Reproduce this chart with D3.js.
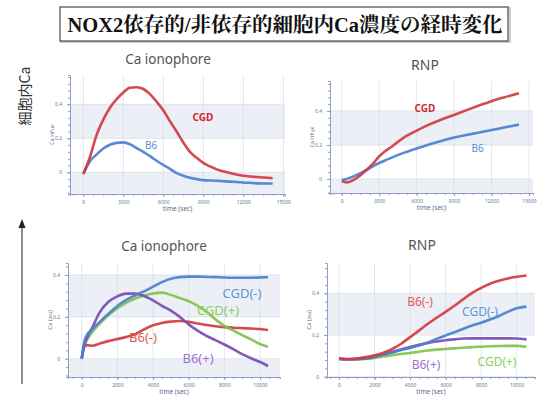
<!DOCTYPE html>
<html><head><meta charset="utf-8">
<script src="https://cdn.jsdelivr.net/npm/d3@7"></script>
<style>body{margin:0;background:#fff}</style>
</head><body><svg id="c" width="540" height="400"></svg>
<script>
const mainTitle = "NOX2依存的/非依存的細胞内Ca濃度の経時変化";
const sideLabel = "細胞内Ca";

// Panel A: Ca ionophore (top-left)
const aTitle = "Ca ionophore";
const aTime = [0,500,1000,1500,2000,2500,3000,3500,4000,4500,5000,5500,6000,6500,7000,7500,8000,8500,9000,9500,10000,11000,12000,13000,14200];
const aCGD = [-0.01,0.09,0.22,0.31,0.38,0.43,0.47,0.497,0.50,0.49,0.46,0.415,0.365,0.30,0.24,0.175,0.12,0.085,0.055,0.035,0.017,-0.004,-0.02,-0.028,-0.035];
const aB6 = [-0.01,0.065,0.105,0.14,0.162,0.173,0.176,0.165,0.142,0.12,0.095,0.068,0.043,0.02,-0.005,-0.02,-0.032,-0.04,-0.046,-0.048,-0.05,-0.055,-0.06,-0.065,-0.066];

// Panel B: RNP (top-right)
const bTitle = "RNP";
const bTime = [0,400,1000,1500,2000,2500,3000,3500,4000,5000,6000,7000,8000,9000,10000,11000,12000,13000,14200];
const bCGD = [-0.012,-0.02,-0.004,0.022,0.055,0.09,0.133,0.165,0.19,0.245,0.285,0.32,0.35,0.377,0.405,0.432,0.458,0.48,0.504];
const bB6 = [-0.006,0.0,0.017,0.034,0.053,0.075,0.094,0.11,0.126,0.155,0.18,0.203,0.224,0.244,0.259,0.274,0.288,0.303,0.32];

// Panel C: Ca ionophore (bottom-left)
const cTitle = "Ca ionophore";
const cTime = [0,150,300,600,1000,1500,2000,2500,3000,3500,4000,4500,5000,5500,6000,6500,7000,7500,8000,8500,9000,9500,10000,10450];
const cCGDminus = [0,0.083,0.114,0.142,0.175,0.215,0.252,0.281,0.303,0.322,0.344,0.366,0.382,0.39,0.392,0.392,0.391,0.39,0.388,0.387,0.387,0.387,0.388,0.389];
const cCGDplus = [0,0.065,0.09,0.128,0.167,0.208,0.241,0.268,0.288,0.302,0.312,0.316,0.305,0.29,0.275,0.253,0.224,0.188,0.157,0.135,0.113,0.092,0.07,0.057];
const cB6plus = [0,0.065,0.1,0.15,0.22,0.272,0.298,0.311,0.311,0.3,0.279,0.253,0.23,0.2,0.164,0.134,0.109,0.089,0.068,0.046,0.022,0.002,-0.016,-0.035];
const cB6minus = [0,0.058,0.065,0.062,0.072,0.084,0.094,0.104,0.117,0.14,0.16,0.171,0.177,0.18,0.176,0.168,0.161,0.155,0.151,0.148,0.146,0.144,0.142,0.137];

// Panel D: RNP (bottom-right)
const dTitle = "RNP";
const dTime = [0,500,1000,1500,2000,2500,3000,3500,4000,4500,5000,5500,6000,6500,7000,7500,8000,8500,9000,9500,10000,10550];
const dB6minus = [0.088,0.085,0.087,0.094,0.103,0.115,0.133,0.158,0.19,0.221,0.254,0.283,0.311,0.34,0.372,0.402,0.426,0.446,0.46,0.471,0.479,0.485];
const dCGDminus = [0.085,0.083,0.086,0.09,0.096,0.106,0.116,0.128,0.138,0.15,0.164,0.182,0.198,0.213,0.23,0.246,0.259,0.274,0.291,0.311,0.328,0.336];
const dB6plus = [0.085,0.084,0.084,0.087,0.095,0.106,0.119,0.131,0.143,0.153,0.162,0.169,0.175,0.179,0.183,0.184,0.184,0.184,0.184,0.184,0.183,0.179];
const dCGDplus = [0.085,0.083,0.083,0.085,0.09,0.097,0.103,0.109,0.114,0.12,0.126,0.13,0.133,0.136,0.139,0.142,0.144,0.146,0.147,0.148,0.148,0.144];

const xTicksLong = [0,3000,6000,9000,12000,15000];
const xTicksShort = [0,2000,4000,6000,8000,10000];
const yTicks = [0,0.2,0.4];
const bandRanges = [[-1,0],[0.2,0.4],[0.6,0.8]];
const xLabel = "time (sec)";

const svg = d3.select("#c");
const FONT = "'Noto Sans','Open Sans',sans-serif";

// Title box
svg.append("rect").attr("x",61).attr("y",8).attr("width",449).attr("height",34)
  .attr("fill","none").attr("stroke","#bbb").attr("stroke-width",1.5);
svg.append("rect").attr("x",60).attr("y",7).attr("width",448).attr("height",34)
  .attr("fill","#fff").attr("stroke","#555").attr("stroke-width",1.3);
svg.append("text").attr("x",285).attr("y",32).attr("text-anchor","middle")
  .attr("font-family","'Liberation Serif','Noto Serif CJK JP','Noto Sans CJK JP',serif")
  .attr("font-weight","bold").attr("font-size",20.5).attr("fill","#111").text(mainTitle);

// Side label and arrow
svg.append("text").attr("transform","translate(30,96) rotate(-90)")
  .attr("text-anchor","middle").attr("font-family","'Noto Sans CJK JP',sans-serif")
  .attr("font-size",14).attr("fill","#333").text(sideLabel);
svg.append("line").attr("x1",22).attr("x2",22).attr("y1",384).attr("y2",226)
  .attr("stroke","#444").attr("stroke-width",1.2);
svg.append("path").attr("d","M22,219 L18.5,228 L25.5,228 Z").attr("fill","#222");

function panel(p) {
  const g = svg.append("g");
  const F = p.frame;
  const xs0 = d3.scaleLinear().domain([0, p.xTicks[p.xTicks.length-1]]).range(p.xAnchor);
  const ys0 = d3.scaleLinear().domain([0, 0.4]).range(p.yAnchor);
  const x = d3.scaleLinear().domain([xs0.invert(F.l), xs0.invert(F.r)]).range([F.l, F.r]);
  const y = d3.scaleLinear().domain([ys0.invert(F.b), ys0.invert(F.t)]).range([F.b, F.t]);
  const [y0, y1] = y.domain();

  // bands
  bandRanges.forEach(([lo, hi]) => {
    const a = Math.max(lo, y0), b = Math.min(hi, y1);
    if (b > a) g.append("rect").attr("x",F.l).attr("width",F.r-F.l)
      .attr("y",y(b)).attr("height",y(a)-y(b)).attr("fill","#eceff5");
  });
  // grid
  g.selectAll(".vg").data(p.xTicks.filter(t => x(t) > F.l+1 && x(t) < F.r-1)).join("line")
    .attr("x1",d=>x(d)).attr("x2",d=>x(d)).attr("y1",F.t).attr("y2",F.b)
    .attr("stroke","#d9dfea").attr("stroke-width",0.8);
  g.selectAll(".hg").data(yTicks).join("line")
    .attr("x1",F.l).attr("x2",F.r).attr("y1",d=>y(d)).attr("y2",d=>y(d))
    .attr("stroke","#d9dfea").attr("stroke-width",0.8);

  // axes
  const axCol = "#8e9fc4";
  const styleAxis = (sel) => {
    sel.select(".domain").attr("stroke",axCol).attr("stroke-width",1);
    sel.selectAll(".tick line").attr("stroke",axCol);
    sel.selectAll("text").attr("fill","#6a7896").attr("font-size",5).attr("font-family",FONT);
  };
  const step = p.xTicks[1] / 4;
  const minorX = d3.range(Math.ceil(x.domain()[0]/step)*step, x.domain()[1], step);
  const minorY = d3.range(Math.ceil(y0/0.04)*0.04, y1, 0.04);
  g.append("g").attr("transform",`translate(0,${F.b})`)
    .call(d3.axisBottom(x).tickValues(minorX).tickSize(2).tickFormat(""))
    .call(styleAxis);
  g.append("g").attr("transform",`translate(${F.l},0)`)
    .call(d3.axisLeft(y).tickValues(minorY).tickSize(2).tickFormat(""))
    .call(styleAxis);
  g.append("g").attr("transform",`translate(0,${F.b})`)
    .call(d3.axisBottom(x).tickValues(p.xTicks).tickSize(3).tickPadding(3).tickFormat(d3.format("d")))
    .call(styleAxis).call(s => s.select(".domain").remove());
  g.append("g").attr("transform",`translate(${F.l},0)`)
    .call(d3.axisLeft(y).tickValues(yTicks).tickSize(3).tickPadding(5).tickFormat(d => d === 0 ? "0" : d3.format(".1f")(d)))
    .call(styleAxis).call(s => s.select(".domain").remove());

  // axis titles
  g.append("text").attr("x",(F.l+F.r)/2).attr("y",F.b+17).attr("text-anchor","middle")
    .attr("font-family",FONT).attr("font-size",6.5).attr("fill","#5d6b88").text(xLabel);
  g.append("text").attr("transform",`translate(${F.l-16},${(F.t+F.b)/2}) rotate(-90)`)
    .attr("text-anchor","middle").attr("font-family",FONT).attr("font-size",p.yLabelSize)
    .attr("fill","#5d6b88").text(p.yLabel);

  // panel title
  g.append("text").attr("x",p.titlePos[0]).attr("y",p.titlePos[1]).attr("text-anchor","middle")
    .attr("font-family",FONT).attr("font-size",p.titleSize).attr("fill","#555").text(p.title);

  // series
  const line = d3.line().x(d => x(d[0])).y(d => y(d[1])).curve(d3.curveMonotoneX);
  p.series.forEach(s => {
    g.append("path").datum(p.time.map((t,i) => [t, s.values[i]]))
      .attr("fill","none").attr("stroke",s.color).attr("stroke-width",2.6)
      .attr("stroke-linejoin","round").attr("stroke-opacity",0.92).attr("d",line);
  });
  p.series.forEach(s => {
    g.append("text").attr("x",s.label[0]).attr("y",s.label[1]).attr("text-anchor","middle")
      .attr("dominant-baseline","central").attr("font-family",FONT)
      .attr("font-size",p.labelSize).attr("font-weight",s.bold ? "bold" : "normal")
      .attr("fill",s.labelColor).text(s.name);
  });
}

const RED = "#d23a3f", BLUE = "#4a80cf", GREEN = "#7fc24a", PURPLE = "#7a4bb6";

panel({
  title: aTitle, titlePos:[168,64], titleSize:13.5,
  frame:{l:70,r:285,t:75,b:194}, xAnchor:[83.3,283.3], yAnchor:[172.3,104.3],
  xTicks:xTicksLong, yLabel:"Ca influx", yLabelSize:5, labelSize:10,
  time:aTime,
  series:[
    {name:"B6", values:aB6, color:BLUE, labelColor:"#5b8bd6", label:[151,145]},
    {name:"CGD", values:aCGD, color:RED, labelColor:"#d02a30", label:[203,117], bold:true}
  ]
});
panel({
  title: bTitle, titlePos:[425,70], titleSize:14,
  frame:{l:330,r:533,t:81,b:193}, xAnchor:[341.7,529], yAnchor:[179,111],
  xTicks:xTicksLong, yLabel:"Ca influx", yLabelSize:5, labelSize:10,
  time:bTime,
  series:[
    {name:"B6", values:bB6, color:BLUE, labelColor:"#5b8bd6", label:[477.7,147.7]},
    {name:"CGD", values:bCGD, color:RED, labelColor:"#d02a30", label:[425,107.7], bold:true}
  ]
});
panel({
  title: cTitle, titlePos:[164,251], titleSize:13.5,
  frame:{l:68,r:280,t:263,b:377}, xAnchor:[81.7,260], yAnchor:[358.7,275],
  xTicks:xTicksShort, yLabel:"Ca (au)", yLabelSize:6, labelSize:13,
  time:cTime,
  series:[
    {name:"B6(-)", values:cB6minus, color:RED, labelColor:"#e05a5c", label:[143,337]},
    {name:"CGD(+)", values:cCGDplus, color:GREEN, labelColor:"#8fcd5c", label:[218,310]},
    {name:"B6(+)", values:cB6plus, color:PURPLE, labelColor:"#a271d0", label:[198,358]},
    {name:"CGD(-)", values:cCGDminus, color:BLUE, labelColor:"#5f93dc", label:[242,293]}
  ]
});
panel({
  title: dTitle, titlePos:[422,250], titleSize:14,
  frame:{l:327,r:535,t:263,b:377}, xAnchor:[339,516.7], yAnchor:[376.7,293.3],
  xTicks:xTicksShort, yLabel:"Ca (au)", yLabelSize:6, labelSize:12,
  time:dTime,
  series:[
    {name:"CGD(+)", values:dCGDplus, color:GREEN, labelColor:"#8fcd5c", label:[497,361]},
    {name:"B6(+)", values:dB6plus, color:PURPLE, labelColor:"#a271d0", label:[426,364]},
    {name:"CGD(-)", values:dCGDminus, color:BLUE, labelColor:"#5f93dc", label:[480,311]},
    {name:"B6(-)", values:dB6minus, color:RED, labelColor:"#e05a5c", label:[420,301]}
  ]
});
</script></body></html>
